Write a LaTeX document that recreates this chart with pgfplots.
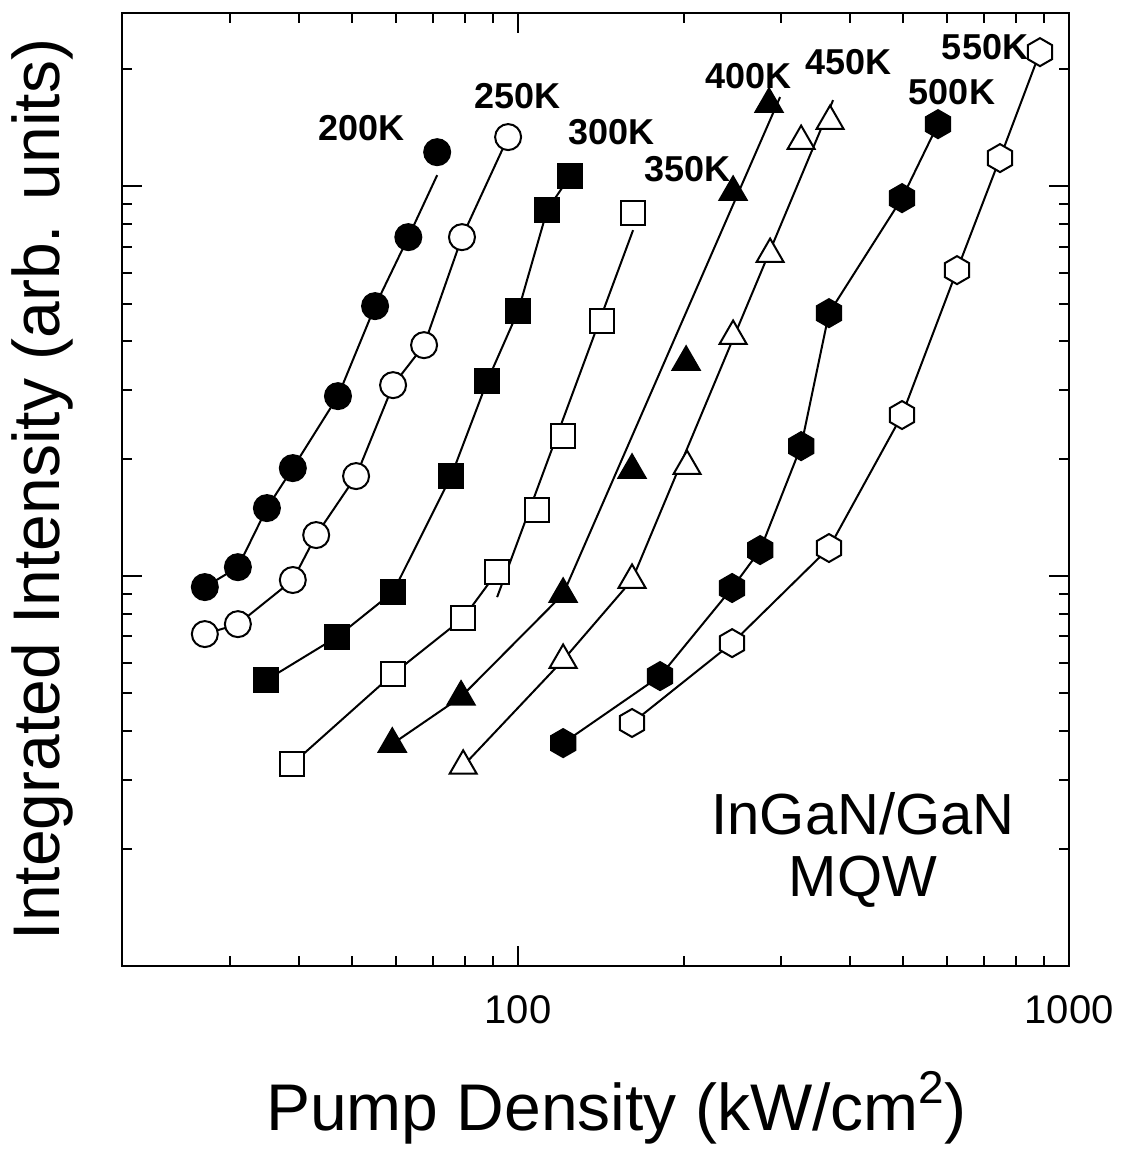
\documentclass[border=0pt]{standalone}
\usepackage{fontspec}
\setmainfont{Liberation Sans}
\usepackage{pgfplots}
\pgfplotsset{compat=1.18}

\pgfdeclareplotmark{hexagon*}{%
  \pgfpathmoveto{\pgfpointpolar{90}{\pgfplotmarksize}}%
  \pgfpathlineto{\pgfpointpolar{150}{\pgfplotmarksize}}%
  \pgfpathlineto{\pgfpointpolar{210}{\pgfplotmarksize}}%
  \pgfpathlineto{\pgfpointpolar{270}{\pgfplotmarksize}}%
  \pgfpathlineto{\pgfpointpolar{330}{\pgfplotmarksize}}%
  \pgfpathlineto{\pgfpointpolar{30}{\pgfplotmarksize}}%
  \pgfpathclose
  \pgfusepathqfillstroke}

\begin{document}
\begin{tikzpicture}
\begin{axis}[
  scale only axis, width=473.5pt, height=476.5pt,
  xmode=log, ymode=log,
  xmin=19.1, xmax=1000, ymin=0.01, ymax=2.78,
  xtick={100,1000}, xticklabels={100,1000},
  minor xtick={30,40,50,60,70,80,90,200,300,400,500,600,700,800,900},
  ytick={0.1,1}, yticklabels={},
  minor ytick={0.02,0.03,0.04,0.05,0.06,0.07,0.08,0.09,0.2,0.3,0.4,0.5,0.6,0.7,0.8,0.9,2},
  major tick length=10pt, minor tick length=5pt,
  tick style={line width=1pt, black},
  axis line style={line width=1.2pt},
  ticklabel style={font=\fontsize{20}{24}\selectfont},
  xticklabel style={yshift=-11pt},
  xlabel={Pump Density (kW/cm\raisebox{0.42em}{\fontsize{23}{23}\selectfont 2})},
  ylabel={Integrated Intensity (arb. units)},
  label style={font=\fontsize{33}{40}\selectfont},
  xlabel style={at={(axis description cs:0.522,-0.173)}, anchor=base},
  ylabel style={at={(axis description cs:-0.0655,0.5)}, anchor=base},
  clip=false,
  every axis plot/.append style={line width=1pt, black},
]
% ---------- lines ----------
\addplot[no markers] coordinates {(27.0,0.0937)(31.0,0.1054)(35.0,0.1494)(39.0,0.1892)(47.1,0.2894)(55.0,0.4924)(63.2,0.7400)(71.3,1.067)};
\addplot[no markers] coordinates {(27.0,0.0710)(31.0,0.0753)(39.0,0.0977)(43.0,0.1274)(50.8,0.1805)(59.3,0.3088)(67.5,0.3911)(79.1,0.7400)(95.9,1.336)};
\addplot[no markers] coordinates {(34.9,0.0541)(46.9,0.0698)(59.3,0.0910)(75.6,0.1805)(87.9,0.3162)(100,0.4780)(112.9,0.8680)(124.2,1.0608)};
\addplot[no markers] coordinates {(38.9,0.03296)(59.3,0.0561)(79.5,0.0780)(91.6,0.1024)};
\addplot[no markers] coordinates {(91.6,0.0883)(161.7,0.7713)};
\addplot[no markers] coordinates {(59.1,0.0371)(78.8,0.0490)(120.7,0.0899)(298.9,1.692)};
\addplot[no markers] coordinates {(79.5,0.0326)(120.7,0.0609)(161.0,0.0977)(373.1,1.662)};
\addplot[no markers] coordinates {(120.7,0.0373)(181.0,0.0554)(244.6,0.0932)(275.0,0.1166)(326.4,0.2154)(366.7,0.4724)(497.6,0.9316)(578.4,1.442)};
\addplot[no markers] coordinates {(161.0,0.0420)(244.6,0.0673)(366.7,0.1180)(497.6,0.2588)(626.2,0.6090)(749.5,1.180)(885.7,2.206)};
% ---------- markers ----------
% 200 K
\addplot[only marks, mark=*, mark size=6.5pt, mark options={fill=black}] coordinates {(27.0,0.0937)(31.0,0.1054)(35.0,0.1494)(39.0,0.1892)(47.1,0.2894)(55.0,0.4924)(63.2,0.7400)(71.3,1.222)};
% 250 K
\addplot[only marks, mark=*, mark size=6.5pt, mark options={fill=white}] coordinates {(27.0,0.0710)(31.0,0.0753)(39.0,0.0977)(43.0,0.1274)(50.8,0.1805)(59.3,0.3088)(67.5,0.3911)(79.1,0.7400)(95.9,1.336)};
% 300 K
\addplot[only marks, mark=square*, mark size=6pt, mark options={fill=black}] coordinates {(34.9,0.0541)(46.9,0.0698)(59.3,0.0910)(75.6,0.1805)(87.9,0.3162)(100,0.4780)(112.9,0.8680)(124.2,1.0608)};
% 350 K
\addplot[only marks, mark=square*, mark size=6pt, mark options={fill=white}] coordinates {(38.9,0.03296)(59.3,0.0561)(79.5,0.0780)(91.6,0.1024)(108.3,0.1476)(120.7,0.2286)(142.1,0.4506)(161.7,0.8526)};
% 400 K
\addplot[only marks, mark=triangle*, mark size=7.8pt, mark options={fill=black}] coordinates {(59.1,0.0371)(78.8,0.0490)(120.7,0.0899)(161.0,0.1870)(201.8,0.3538)(245.6,0.9652)(285.4,1.623)};
% 450 K
\addplot[only marks, mark=triangle*, mark size=7.8pt, mark options={fill=white}] coordinates {(79.5,0.0326)(120.7,0.0609)(161.0,0.0977)(202.6,0.1914)(245.6,0.4125)(286.7,0.6692)(326.4,1.304)(368.4,1.468)};
% 500 K
\addplot[only marks, mark=hexagon*, mark size=7pt, mark options={fill=black}] coordinates {(120.7,0.0373)(181.0,0.0554)(244.6,0.0932)(275.0,0.1166)(326.4,0.2154)(366.7,0.4724)(497.6,0.9316)(578.4,1.442)};
% 550 K
\addplot[only marks, mark=hexagon*, mark size=7pt, mark options={fill=white}] coordinates {(161.0,0.0420)(244.6,0.0673)(366.7,0.1180)(497.6,0.2588)(626.2,0.6090)(749.5,1.180)(885.7,2.206)};
% ---------- labels ----------
\begin{scope}[every node/.style={font=\bfseries\fontsize{18}{20}\selectfont, inner sep=0pt}]
\node at (axis cs:51.9,1.408) {200K};
\node at (axis cs:99.8,1.701) {250K};
\node at (axis cs:147.5,1.375) {300K};
\node at (axis cs:202.6,1.105) {350K};
\node at (axis cs:261.5,1.915) {400K};
\node at (axis cs:397.2,2.080) {450K};
\node at (axis cs:613.2,1.742) {500K};
\node at (axis cs:704.0,2.272) {550K};
\end{scope}
\node[font=\fontsize{29}{31}\selectfont, align=center, inner sep=0pt] at (axis cs:422.8,0.01984) {InGaN/GaN\\MQW};
\end{axis}
\path ([xshift=-61pt,yshift=-94.5pt]current axis.south west) rectangle ([xshift=507.5pt,yshift=483pt]current axis.south west);
\end{tikzpicture}
\end{document}
